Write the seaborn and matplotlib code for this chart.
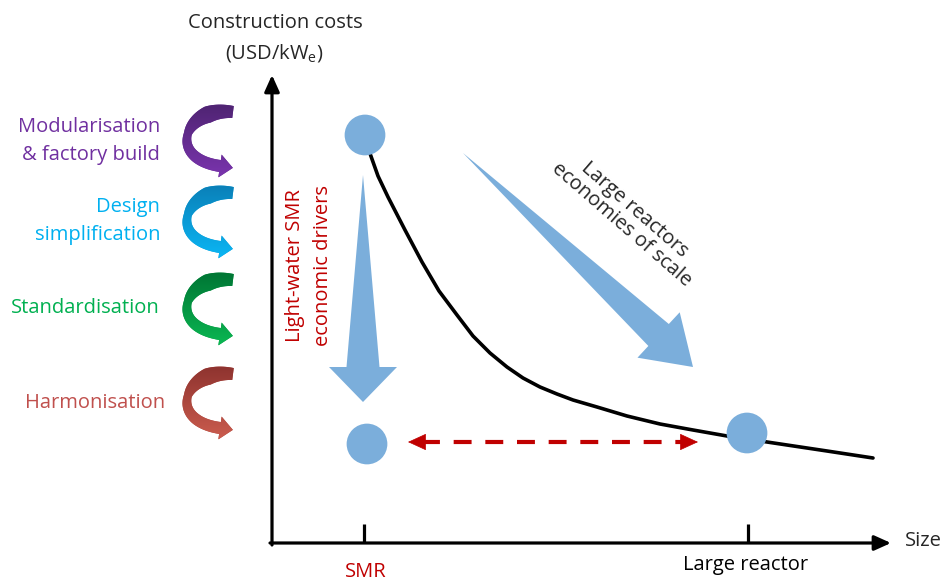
import numpy as np
import pandas as pd
import matplotlib
matplotlib.use("Agg")
import matplotlib.pyplot as plt
import seaborn as sns
from matplotlib.patches import Polygon
from matplotlib.colors import LinearSegmentedColormap, to_rgb

# ---------------- data (conceptual units: size vs. cost) ----------------
curve_size = [95, 106, 116, 133, 150, 167, 185, 201, 218, 235, 251, 268, 285, 301,
              325, 355, 388, 421, 455, 495, 555, 601]
curve_cost = [398, 367, 346, 313, 281, 252, 228, 207, 190, 176, 165, 156, 149, 143,
              136, 127, 119, 113, 107, 101, 92, 85]

dot_labels = ["SMR (today)", "SMR (target)", "Large reactor"]
dot_size = [93, 95, 475]
dot_cost = [408, 99, 110]

tick_size = [92, 476]
tick_labels = ["SMR", "Large reactor"]
tick_colors = ["#C00000", "black"]

driver_labels = ["Modularisation\n& factory build", "Design\nsimplification",
                 "Standardisation", "Harmonisation"]
driver_text_cost = [402, 322, 235, 140]
driver_arrow_top = [431, 350, 263, 169]
driver_text_col = ["#7030A0", "#00B0F0", "#00B050", "#C0504D"]
driver_dark = ["#4F2472", "#0A80B8", "#007534", "#8E332F"]
driver_light = ["#7A34AE", "#0BB6F4", "#0BB752", "#CB5C4E"]

BLUE = "#7BAEDB"
RED = "#C00000"

# ---------------- figure ----------------
sns.set_style("white")
plt.rcParams["font.family"] = ["Open Sans", "DejaVu Sans"]
plt.rcParams["mathtext.fontset"] = "custom"
plt.rcParams["mathtext.rm"] = "Open Sans"

fig = plt.figure(figsize=(9.44, 5.83), dpi=100)
ax = fig.add_axes([0, 0, 1, 1])
ax.set_xlim(-272, 672)
ax.set_ylim(-40, 543)
ax.set_autoscale_on(False)
ax.axis("off")

FS = 14.5

# axes with arrows
ax.annotate("", xy=(0, 468), xytext=(0, -2),
            arrowprops=dict(arrowstyle="-|>,head_length=10,head_width=4.5", lw=2.3,
                            color="black", shrinkA=0, shrinkB=0, mutation_scale=1))
ax.annotate("", xy=(619, 0), xytext=(-2, 0),
            arrowprops=dict(arrowstyle="-|>,head_length=10,head_width=4.5", lw=2.3,
                            color="black", shrinkA=0, shrinkB=0, mutation_scale=1))
for ts in tick_size:
    ax.plot([ts, ts], [0, 19], color="black", lw=2.3, solid_capstyle="butt")
ax.text(tick_size[0] + 2, -29, tick_labels[0], color=tick_colors[0], fontsize=FS,
        ha="center", va="center")
ax.text(tick_size[1] - 2, -22, tick_labels[1], color=tick_colors[1], fontsize=FS,
        ha="center", va="center")
ax.text(633, 2, "Size", fontsize=FS, ha="left", va="center")

ax.text(3, 520, "Construction costs", fontsize=FS, ha="center", va="center")
ax.text(2, 490, r"(USD/kW$_{\mathregular{e}}$)", fontsize=FS, ha="center", va="center")

# cost curve and dots
sns.lineplot(x=curve_size, y=curve_cost, color="black", lw=2.6, ax=ax, zorder=3)
for ln in ax.lines[-1:]:
    ln.set_solid_joinstyle("round")
df = pd.DataFrame({"size": dot_size, "cost": dot_cost, "label": dot_labels})
sns.scatterplot(data=df, x="size", y="cost", s=860, color=BLUE, edgecolor="none",
                ax=ax, zorder=4, legend=False)


def big_arrow(start, end, tail_w, head_w, head_len, color):
    s = np.asarray(start, float)
    e = np.asarray(end, float)
    d = e - s
    u = d / np.hypot(*d)
    n = np.array([-u[1], u[0]])
    base = e - u * head_len
    pts = [s, base + n * tail_w / 2, base + n * head_w / 2, e,
           base - n * head_w / 2, base - n * tail_w / 2]
    ax.add_patch(Polygon(pts, closed=True, facecolor=color, edgecolor="none", zorder=2))


# SMR drivers arrow (vertical) and economies of scale arrow (diagonal)
big_arrow((dot_size[0] - 2, dot_cost[0] - 40), (dot_size[0] - 2, dot_cost[1] + 42), 33, 68, 35, BLUE)
big_arrow((191, 390), (421, 176), 30, 62, 47, BLUE)

ax.text(23, 277, "Light-water SMR", color=RED, fontsize=FS, rotation=90,
        ha="center", va="center")
ax.text(51, 277, "economic drivers", color=RED, fontsize=FS, rotation=90,
        ha="center", va="center")
ax.text(356, 326, "Large reactors\neconomies of scale", fontsize=FS, rotation=-41,
        ha="center", va="center", multialignment="center", rotation_mode="anchor",
        linespacing=1.05)

# dashed double arrow between SMR target and large reactor
y_d = 101
ax.plot([150, 412], [y_d, y_d], color=RED, lw=3, linestyle=(0, (4.3, 3.3)),
        dash_capstyle="butt")
for x0, x1 in [(152, 136), (410, 426)]:
    ax.annotate("", xy=(x1, y_d), xytext=(x0, y_d),
                arrowprops=dict(arrowstyle="-|>,head_length=12,head_width=5.5", lw=0.5,
                                color=RED, shrinkA=0, shrinkB=0, mutation_scale=1))


def curl_arrow(p0, col_dark, col_light, k):
    """C-shaped arrow: band curving left and back right, head pointing right."""
    p0 = np.asarray(p0, float)
    P = [p0, p0 + (-48, 6), p0 + (-68, -46), p0 + (-13, -54)]
    t = np.linspace(0, 1, 60)[:, None]
    pts = ((1 - t) ** 3) * P[0] + 3 * ((1 - t) ** 2) * t * P[1] + \
        3 * (1 - t) * t ** 2 * P[2] + t ** 3 * P[3]
    der = 3 * ((1 - t) ** 2) * (P[1] - P[0]) + 6 * (1 - t) * t * (P[2] - P[1]) + \
        3 * t ** 2 * (P[3] - P[2])
    u = der / np.hypot(der[:, 0], der[:, 1])[:, None]
    nrm = np.column_stack([-u[:, 1], u[:, 0]])
    w = np.interp(t[:, 0], [0, 0.2, 0.5, 0.8, 1], [12, 17, 8, 11, 12])[:, None]
    left = pts + nrm * w / 2
    right = pts - nrm * w / 2
    ue, ne = u[-1], nrm[-1]
    head_len, head_w = 13, 23
    tip = P[3] + ue * head_len
    poly = np.vstack([left, [P[3] + ne * head_w / 2], [tip],
                      [P[3] - ne * head_w / 2], right[::-1]])
    mid = tuple((np.array(to_rgb(col_dark)) + np.array(to_rgb(col_light))) / 2)
    patch = Polygon(poly, closed=True, facecolor=mid, edgecolor="none", zorder=2)
    ax.add_patch(patch)
    x0, y0 = poly.min(axis=0)
    x1, y1 = poly.max(axis=0)
    cm = LinearSegmentedColormap.from_list(f"g{k}", [col_dark, col_light])
    grad = np.linspace(0, 1, 256)[:, None]
    im = ax.imshow(grad, extent=(x0, x1, y0, y1), origin="upper", cmap=cm,
                   aspect="auto", interpolation="bilinear", zorder=3)
    im.set_clip_path(patch)


for i, lab in enumerate(driver_labels):
    col = driver_text_col[i]
    lines = lab.split("\n")
    if len(lines) == 2:
        ax.text(-112, driver_text_cost[i] + 14, lines[0], color=col, fontsize=FS,
                ha="right", va="center")
        ax.text(-112, driver_text_cost[i] - 14, lines[1], color=col, fontsize=FS,
                ha="right", va="center")
    else:
        xr = -107 if lab == "Harmonisation" else -112
        ax.text(xr, driver_text_cost[i], lab, color=col, fontsize=FS,
                ha="right", va="center")
    curl_arrow((-39, driver_arrow_top[i]), driver_dark[i], driver_light[i], i)

ax.set_xlim(-272, 672)
ax.set_ylim(-40, 543)
fig.savefig("out.png", dpi=100)
